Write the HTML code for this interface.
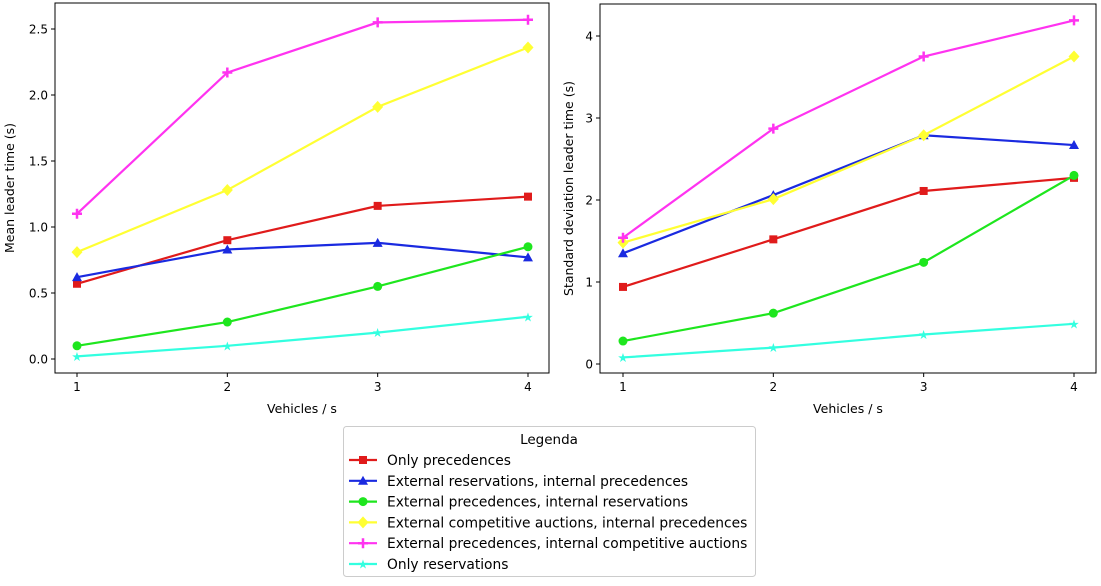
<!DOCTYPE html>
<html><head><meta charset="utf-8"><style>
body{margin:0;background:#fff;font-family:"DejaVu Sans","Liberation Sans",sans-serif;}
svg text{font-family:"DejaVu Sans","Liberation Sans",sans-serif;fill:#000;}
</style></head><body>
<svg id="c" width="1101" height="582"></svg>
<script>
const categories=[1,2,3,4];
const seriesNames=["Only precedences","External reservations, internal precedences","External precedences, internal reservations","External competitive auctions, internal precedences","External precedences, internal competitive auctions","Only reservations"];
const meanRed=[0.57,0.90,1.16,1.23];
const meanBlue=[0.62,0.83,0.88,0.77];
const meanGreen=[0.10,0.28,0.55,0.85];
const meanYellow=[0.81,1.28,1.91,2.36];
const meanMagenta=[1.10,2.17,2.55,2.57];
const meanCyan=[0.02,0.10,0.20,0.32];
const sdRed=[0.94,1.52,2.11,2.27];
const sdBlue=[1.35,2.06,2.79,2.67];
const sdGreen=[0.28,0.62,1.24,2.30];
const sdYellow=[1.48,2.01,2.79,3.75];
const sdMagenta=[1.54,2.87,3.75,4.19];
const sdCyan=[0.08,0.20,0.36,0.49];
const leftTicks=["0.0","0.5","1.0","1.5","2.0","2.5"];
const leftTickVals=[0,0.5,1,1.5,2,2.5];
const rightTicks=["0","1","2","3","4"];
const rightTickVals=[0,1,2,3,4];
const colors=["#e01b1b","#1a2ae0","#1ee61e","#ffff33","#ff33f0","#33ffe0"];
const markers=["s","^","o","D","+","*"];
const NS="http://www.w3.org/2000/svg";
const svg=document.getElementById('c');
function el(t,a,p){const e=document.createElementNS(NS,t);for(const k in a)e.setAttribute(k,a[k]);(p||svg).appendChild(e);return e;}
function marker(g,m,x,y,c){
 let e;
 if(m==="s")e=el('rect',{x:x-4,y:y-4,width:8,height:8,fill:c},g);
 else if(m==="^")e=el('polygon',{points:`${x},${y-5} ${x+5},${y+4} ${x-5},${y+4}`,fill:c},g);
 else if(m==="o")e=el('circle',{cx:x,cy:y,r:4.5,fill:c},g);
 else if(m==="D")e=el('polygon',{points:`${x},${y-6} ${x+5.5},${y} ${x},${y+6} ${x-5.5},${y}`,fill:c},g);
 else if(m==="+")e=el('path',{d:`M${x-5},${y}H${x+5}M${x},${y-5}V${y+5}`,stroke:c,'stroke-width':2.5},g);
 else e=el('text',{x:x,y:y+4.5,'text-anchor':'middle','font-size':12.5,style:'fill:'+c},g),e.textContent='★';
 
 
}
function panel(name,L,R,T,B,x1px,x4px,y0px,perUnit,ticks,tickVals,series,ylabel,yOff){
 const g=el('g',{});
 
 
 const xs=v=>x1px+(v-1)*(x4px-x1px)/3;
 const ys=v=>y0px-v*perUnit;
 el('rect',{x:L,y:T,width:R-L,height:B-T,fill:'none',stroke:'#000','stroke-width':1},g);
 categories.forEach(c=>{const x=xs(c);el('line',{x1:x,x2:x,y1:B,y2:B+4,stroke:'#000'},g);
  const t=el('text',{x:x,y:B+18,'text-anchor':'middle','font-size':12},g);t.textContent=c;
  });
 ticks.forEach((s,i)=>{const y=ys(tickVals[i]);el('line',{x1:L-4,x2:L,y1:y,y2:y,stroke:'#000'},g);
  const t=el('text',{x:L-7,y:y+4.5,'text-anchor':'end','font-size':12},g);t.textContent=s;
  });
 const xt=el('text',{x:(L+R)/2,y:B+40,'text-anchor':'middle','font-size':12.5},g);xt.textContent='Vehicles / s';
 
 const yt=el('text',{x:0,y:0,'text-anchor':'middle','font-size':12.5,transform:`translate(${L-yOff},${(T+B)/2}) rotate(-90)`},g);yt.textContent=ylabel;
 
 series.forEach((arr,si)=>{
  const pts=arr.map((v,i)=>xs(categories[i])+','+ys(v)).join(' ');
  const pl=el('polyline',{points:pts,fill:'none',stroke:colors[si],'stroke-width':2.2},g);
  
  arr.forEach((v,i)=>marker(g,markers[si],xs(categories[i]),ys(v),colors[si]));
 });
}
panel('mean-panel',55,549,3,373,77,528,359,132,leftTicks,leftTickVals,[meanRed,meanBlue,meanGreen,meanYellow,meanMagenta,meanCyan],'Mean leader time (s)',41);
panel('sd-panel',600,1096,4,373,623,1074,364,82,rightTicks,rightTickVals,[sdRed,sdBlue,sdGreen,sdYellow,sdMagenta,sdCyan],'Standard deviation leader time (s)',27);
const lg=el('g',{});


el('rect',{x:343.5,y:426.5,width:412,height:150,rx:3,fill:'#fff',stroke:'#ccc'},lg);
const lt=el('text',{x:549,y:444,'text-anchor':'middle','font-size':13.5},lg);lt.textContent='Legenda';

seriesNames.forEach((n,i)=>{
 const y=460+i*20.8;
 const e=el('g',{},lg);
 
 
 el('line',{x1:349,x2:377,y1:y,y2:y,stroke:colors[i],'stroke-width':2.2},e);
 marker(e,markers[i],363,y,colors[i]);
 const t=el('text',{x:387,y:y+5,'font-size':13.8},e);t.textContent=n;
});
</script>
</body></html>
